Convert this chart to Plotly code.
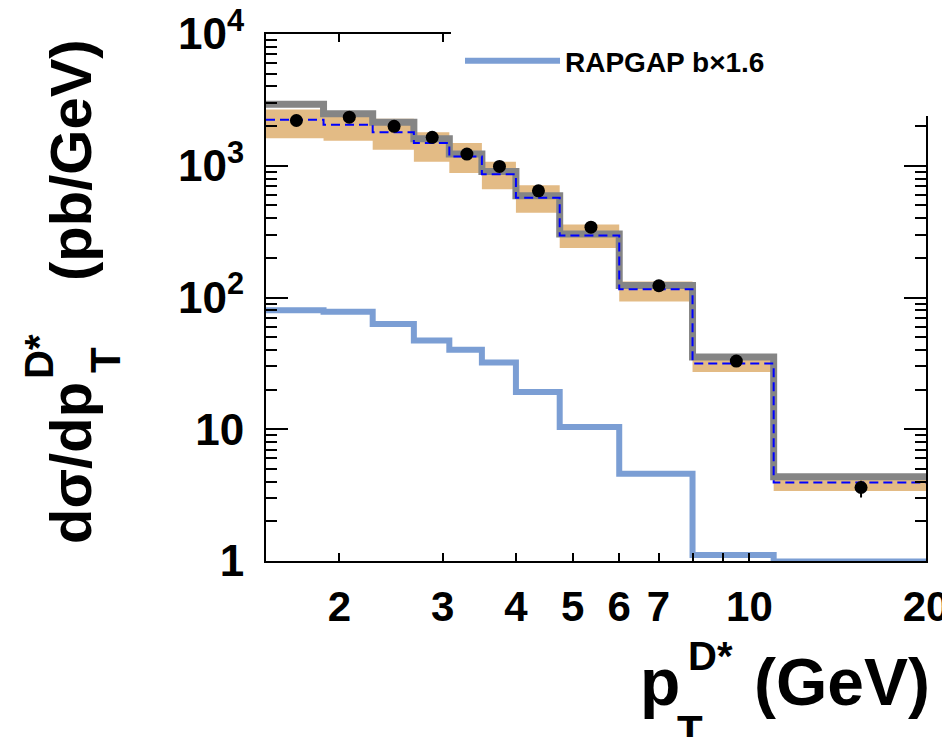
import numpy as np
import plotly.graph_objects as go

# ---------------- data ----------------
bin_edges = [1.5, 1.88, 2.28, 2.68, 3.08, 3.5, 4.0, 4.75, 6.0, 8.0, 11.0, 20.0]

data_x = [1.69, 2.08, 2.48, 2.88, 3.30, 3.75, 4.37, 5.37, 7.01, 9.5, 15.5]
data_y = [2206, 2337, 1995, 1644, 1228, 988, 645, 342, 122.8, 32.9, 3.61]
data_err_up = [90, 90, 80, 65, 50, 40, 26, 14, 5, 1.4, 0.45]
data_err_dn = [90, 90, 80, 65, 50, 40, 26, 14, 5, 1.4, 0.58]

gray_vals = [2932, 2483, 2142, 1607, 1228, 904, 593, 304, 123.5, 35.4, 4.35]
band_lo = [1616, 1552, 1325, 1073, 880, 664, 440, 238, 93.2, 27.2, 3.40]
band_hi = [2675, 2483, 2271, 1796, 1490, 1073, 713, 359, 132.5, 35.9, 4.43]
dashed_vals = [2233, 2046, 1796, 1490, 1178, 864, 573, 296, 115.7, 31.5, 3.94]
rapgap_vals = [80, 77.8, 63, 47.2, 40.1, 32.1, 19.2, 10.4, 4.59, 1.11, 0.99]

x_tickvals = [2, 3, 4, 5, 6, 7, 8, 9, 10, 20]
x_ticktext = ["2", "3", "4", "5", "6", "7", "", "", "10", "20"]
y_tickvals = [1, 10, 100, 1000, 10000]
y_ticktext = ["1", "10", "10<sup>2</sup>", "10<sup>3</sup>", "10<sup>4</sup>"]


def step(vals):
    return list(bin_edges), list(vals) + [vals[-1]]


# ---------------- layout geometry ----------------
W, H = 950, 737
L, R, T, B = 258, 32, 26, 184
PW, PH = W - L - R, H - T - B


def px(x):
    return (x - L) / PW


def py(y):
    return (H - B - y) / PH


fig = go.Figure()

# RAPGAP
sx, sy = step(rapgap_vals)
fig.add_trace(go.Scatter(x=sx, y=sy, mode="lines", line=dict(shape="hv", color="#7b9ed4", width=6),
                         name="RAPGAP b\u00d71.6", showlegend=True))

# orange band
lx, ly = step(band_lo)
hx, hy = step(band_hi)
fig.add_trace(go.Scatter(x=lx, y=ly, mode="lines", line=dict(shape="hv", width=0, color="#e3bb85"),
                         showlegend=False, hoverinfo="skip"))
fig.add_trace(go.Scatter(x=hx, y=hy, mode="lines", line=dict(shape="hv", width=0, color="#e3bb85"),
                         fill="tonexty", fillcolor="#e3bb85", showlegend=False, hoverinfo="skip"))

# gray histogram
gx, gy = step(gray_vals)
fig.add_trace(go.Scatter(x=gx, y=gy, mode="lines", line=dict(shape="hv", color="#858585", width=7),
                         showlegend=False))

# blue dashed
dx, dy = step(dashed_vals)
fig.add_trace(go.Scatter(x=dx, y=dy, mode="lines", line=dict(shape="hv", color="#0000ff", width=2, dash="9px,5px"),
                         showlegend=False))

# data points
fig.add_trace(go.Scatter(x=data_x, y=data_y, mode="markers",
                         marker=dict(color="black", size=13),
                         error_y=dict(type="data", array=data_err_up, arrayminus=data_err_dn,
                                      color="black", thickness=2, width=0),
                         showlegend=False))

title_font = "Liberation Sans, Arial"
tick_font = dict(family="Liberation Sans, Arial", size=42, color="black", weight="bold")

fig.update_layout(
    width=W, height=H,
    margin=dict(l=L, r=R, t=T, b=B, autoexpand=False),
    paper_bgcolor="white", plot_bgcolor="white",
    showlegend=True,
    legend=dict(x=px(452), y=py(28), xanchor="left", yanchor="top", bgcolor="white",
                font=dict(family="Liberation Sans, Arial", size=28, color="black", weight="bold"),
                itemwidth=95, borderwidth=0),
    xaxis=dict(type="log", range=[np.log10(1.5), np.log10(20)], automargin=False,
               tickmode="array", tickvals=x_tickvals, ticktext=x_ticktext,
               ticks="inside", ticklen=8, tickwidth=2, tickcolor="black",
               showline=True, linewidth=2, linecolor="black", mirror="ticks",
               showgrid=False, zeroline=False, ticklabelstandoff=8,
               ticklabeloverflow="allow", tickfont=tick_font),
    yaxis=dict(type="log", range=[-0.0005, 4.0005], automargin=False,
               tickmode="array", tickvals=y_tickvals, ticktext=y_ticktext,
               ticks="inside", ticklen=22, tickwidth=2, tickcolor="black",
               minor=dict(ticks="inside", ticklen=11, tickwidth=2, tickcolor="black", dtick="D1", showgrid=False),
               showline=True, linewidth=2, linecolor="black", mirror="ticks",
               showgrid=False, zeroline=False, ticklabelstandoff=11,
               ticklabeloverflow="allow",
               tickfont=dict(family="Liberation Sans, Arial", size=44, color="black", weight="bold")),
)

# white patch hiding the frame behind the legend
fig.add_shape(type="rect", xref="paper", yref="paper", x0=px(443), x1=px(955), y0=py(108), y1=py(-5),
              fillcolor="white", line=dict(width=0), layer="above")

ann = []
# y title pieces (rotated)
ann.append(dict(text="d\u03c3/dp", x=px(62), y=py(455), textangle=-90, font=dict(size=58)))
ann.append(dict(text="(pb/GeV)", x=px(62), y=py(152), textangle=-90, font=dict(size=58)))
ann.append(dict(text="D*", x=px(31), y=py(349), textangle=-90, font=dict(size=40)))
ann.append(dict(text="T", x=px(97), y=py(352), textangle=-90, font=dict(size=42)))
# x title pieces
ann.append(dict(text="p", x=px(652), y=py(674), font=dict(size=66)))
ann.append(dict(text="(GeV)", x=px(834), y=py(674), font=dict(size=66)))
ann.append(dict(text="D*", x=px(702), y=py(648), font=dict(size=40)))
ann.append(dict(text="T", x=px(682), y=py(722), font=dict(size=42)))
for a in ann:
    a.update(xref="paper", yref="paper", xanchor="center", yanchor="middle", showarrow=False)
    a["font"].update(family=title_font, color="black", weight="bold")
fig.update_layout(annotations=ann)

fig.write_html("out.html")
